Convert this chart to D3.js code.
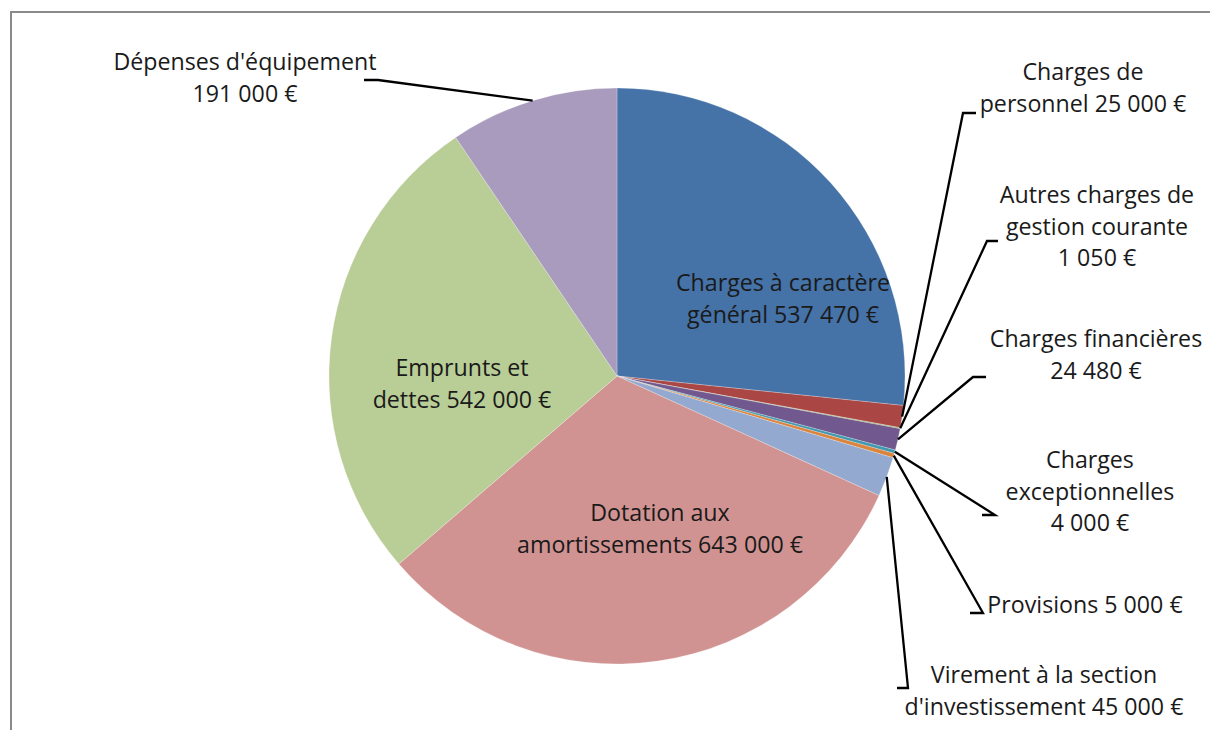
<!DOCTYPE html>
<html><head><meta charset="utf-8">
<script src="https://cdn.jsdelivr.net/npm/d3@7"></script>
<style>
html,body{margin:0;padding:0;background:#fff;}
svg{display:block;}
text{font-family:"Open Sans", sans-serif;fill:#1a1a1a;}
</style></head>
<body>
<script>
// ---- data ----
const categories = [
  "Charges à caractère général",
  "Charges de personnel",
  "Autres charges de gestion courante",
  "Charges financières",
  "Charges exceptionnelles",
  "Provisions",
  "Virement à la section d'investissement",
  "Dotation aux amortissements",
  "Emprunts et dettes",
  "Dépenses d'équipement"
];
const values = [537470, 25000, 1050, 24480, 4000, 5000, 45000, 643000, 542000, 191000];
const valueLabels = ["537 470 €","25 000 €","1 050 €","24 480 €","4 000 €","5 000 €","45 000 €","643 000 €","542 000 €","191 000 €"];
const colors = ["#4572A7","#AA4643","#89A54E","#71588F","#4198AF","#DB843D","#93A9CF","#D19392","#B9CD96","#A99BBD"];

// label text lines (wrapped as in the reference)
const labelLines = [
  ["Charges à caractère", "général " + valueLabels[0]],
  ["Charges de", "personnel " + valueLabels[1]],
  ["Autres charges de", "gestion courante", valueLabels[2]],
  ["Charges financières", valueLabels[3]],
  ["Charges", "exceptionnelles", valueLabels[4]],
  ["Provisions " + valueLabels[5]],
  ["Virement à la section", "d'investissement " + valueLabels[6]],
  ["Dotation aux", "amortissements " + valueLabels[7]],
  ["Emprunts et", "dettes " + valueLabels[8]],
  ["Dépenses d'équipement", valueLabels[9]]
];

// ---- layout ----
const W = 1210, H = 730;
const cx = 617, cy = 376, R = 288;
const lineH = 31.5;
// label layout: center x, first baseline y, leader stub [x1,x2,y] (null = inside label)
const labelLayout = [
  {x: 783, y: 291, stub: null},
  {x: 1083, y: 80, stub: [963, 976, 113]},
  {x: 1097, y: 203, stub: [987, 998, 241]},
  {x: 1096, y: 347, stub: [973, 986, 377]},
  {x: 1090, y: 468, stub: [995, 982, 515]},
  {x: 1085, y: 613, stub: [983, 970, 613]},
  {x: 1044, y: 683, stub: [908, 897, 688]},
  {x: 660, y: 521, stub: null},
  {x: 462, y: 376, stub: null},
  {x: 245, y: 70, stub: [378, 364, 80]}
];

const svg = d3.select("body").append("svg").attr("width", W).attr("height", H);

// frame
svg.append("rect").attr("x", 11).attr("y", 12).attr("width", W + 20).attr("height", H + 20)
  .attr("fill", "#fff").attr("stroke", "#8a8a8a").attr("stroke-width", 2);

const pie = d3.pie().sort(null).value(d => d)(values);
const arc = d3.arc().innerRadius(0).outerRadius(R);

const g = svg.append("g").attr("transform", `translate(${cx},${cy})`);
g.selectAll("path.slice").data(pie).join("path")
  .attr("class", "slice")
  .attr("d", arc)
  .attr("fill", (d, i) => colors[i])
  .attr("stroke", "rgba(255,255,255,0.35)")
  .attr("stroke-width", 0.7);

// leader lines
pie.forEach((d, i) => {
  const L = labelLayout[i];
  if (!L.stub) return;
  const a = (d.startAngle + d.endAngle) / 2;
  const px = cx + R * Math.sin(a), py = cy - R * Math.cos(a);
  const [x1, x2, ys] = L.stub;
  const p = d3.path();
  p.moveTo(px, py);
  p.lineTo(x1, ys);
  p.lineTo(x2, ys);
  svg.append("path").attr("d", p.toString()).attr("fill", "none")
    .attr("stroke", "#000").attr("stroke-width", 2.3);
});

// labels
labelLines.forEach((lines, i) => {
  const L = labelLayout[i];
  const t = svg.append("text").attr("text-anchor", "middle").attr("font-size", 23.2);
  lines.forEach((ln, j) => {
    t.append("tspan").attr("x", L.x).attr("y", L.y + j * lineH).text(ln);
  });
});
</script>
</body></html>
